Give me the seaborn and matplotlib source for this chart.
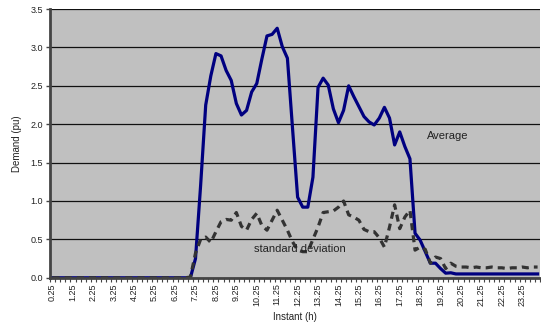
import numpy as np
import pandas as pd
import seaborn as sns
import matplotlib.pyplot as plt
from matplotlib.ticker import FixedLocator

# time instants 0.25 .. 24.0 h (96 quarter hours)
instants = [f"{0.25 * (k + 1):.2f}" for k in range(96)]

average = ([0.0] * 28 +
           [0.25, 1.2, 2.25, 2.63, 2.92, 2.89, 2.70, 2.57, 2.27, 2.12,
            2.18, 2.42, 2.53, 2.85, 3.15, 3.17, 3.25, 3.01, 2.86, 1.95,
            1.05, 0.92, 0.92, 1.31, 2.48, 2.60, 2.51, 2.20, 2.02, 2.18,
            2.50, 2.36, 2.23, 2.10, 2.03, 1.99, 2.08, 2.22, 2.08, 1.73,
            1.90, 1.71, 1.55, 0.58, 0.49, 0.34, 0.19, 0.19, 0.12, 0.06,
            0.065] +
           [0.05] * 17)

std_dev = ([0.0] * 27 +
           [0.01, 0.32, 0.50, 0.53, 0.46, 0.60, 0.73, 0.76, 0.75, 0.85,
            0.67, 0.62, 0.76, 0.84, 0.68, 0.62, 0.75, 0.88, 0.75, 0.62,
            0.47, 0.36, 0.34, 0.34, 0.50, 0.66, 0.85, 0.86, 0.87, 0.92,
            1.00, 0.82, 0.79, 0.75, 0.63, 0.60, 0.60, 0.52, 0.40, 0.66,
            0.95, 0.64, 0.79, 0.88, 0.36, 0.40, 0.37, 0.19, 0.27, 0.25,
            0.12, 0.19, 0.15, 0.14, 0.14, 0.13, 0.14, 0.13, 0.13, 0.14,
            0.13, 0.13, 0.12, 0.13, 0.13, 0.14, 0.13, 0.14, 0.14])

df = pd.DataFrame({"pos": np.arange(96), "Average": average, "Std": std_dev})

plt.rcParams['font.family'] = ['Liberation Sans', 'DejaVu Sans']

fig = plt.figure(figsize=(5.41, 3.23), dpi=100)
ax = fig.add_axes([0.0924, 0.140, 0.906, 0.832])
ax.set_facecolor('#c0c0c0')

sns.lineplot(data=df, x="pos", y="Average", ax=ax, color='#000080', linewidth=2.3)
sns.lineplot(data=df, x="pos", y="Std", ax=ax, color='#333333', linewidth=2.3,
             linestyle=(0, (2.2, 1.6)))

ax.set_xlim(-0.5, 95.5)
ax.set_ylim(0, 3.5)
ax.set_yticks(np.arange(0, 3.51, 0.5))
ax.set_yticklabels([f"{v:.1f}" for v in np.arange(0, 3.51, 0.5)], fontsize=6.5, color='#222222')
ax.yaxis.grid(True, color='#111111', linewidth=0.9)
ax.set_axisbelow(True)

ax.set_xticks(np.arange(0, 96, 4))
ax.set_xticklabels(instants[::4], rotation=90, fontsize=6.5, color='#222222')
ax.tick_params(axis='x', length=0, pad=4)
ax.tick_params(axis='y', length=3, width=1, color='#444444', pad=2)
ax.xaxis.set_minor_locator(FixedLocator(np.arange(-0.5, 96, 1)))
ax.tick_params(axis='x', which='minor', length=3, width=0.8, color='#444444')

for s in ['top', 'right']:
    ax.spines[s].set_visible(False)
for s in ['left', 'bottom']:
    ax.spines[s].set_color('#444444')
    ax.spines[s].set_linewidth(2)

ax.set_xlabel("Instant (h)", fontsize=7, color='#222222', labelpad=4)
ax.set_ylabel("Demand (pu)", fontsize=7, color='#222222', labelpad=6)

ax.text(73.3, 1.85, "Average", fontsize=8, color='#222222', va='center')
ax.text(39.5, 0.38, "standard deviation", fontsize=8, color='#222222', va='center')

fig.savefig("out.png", dpi=100)
